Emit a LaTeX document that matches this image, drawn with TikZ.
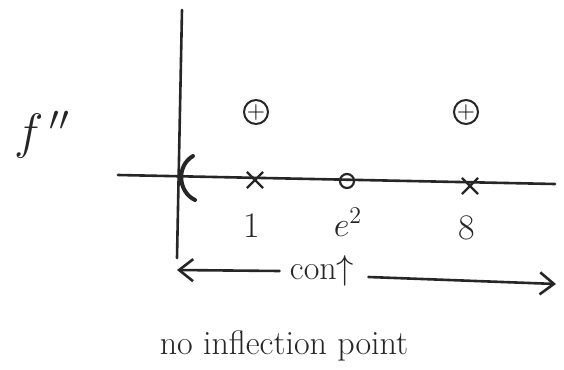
\documentclass[tikz,border=0pt]{standalone}
\usetikzlibrary{arrows.meta,shapes.misc}
\begin{document}
\begin{tikzpicture}[x=0.5pt,y=-0.5pt,
  ink/.style={line width=1.3pt,draw=black!85,line cap=round},
  lbl/.style={font=\fontsize{15}{17}\selectfont,text=black!85,inner sep=0pt},
  xmark/.style={cross out,draw=black!85,line width=1.1pt,minimum size=7pt,inner sep=0pt},
  sgn/.style={circle,draw=black!85,line width=1pt,inner sep=0pt,minimum size=12pt,font=\fontsize{12}{12}\selectfont\bfseries}]
\useasboundingbox (0,0) rectangle (564,370);
% axes
\coordinate (vtop) at (182,10);
\coordinate (vbot) at (177,258);
\coordinate (hl) at (118,175);
\coordinate (hr) at (555,184);
\draw[ink] (vtop) -- (vbot);
\draw[ink] (hl) -- (hr);
% label
\node[lbl,font=\fontsize{24}{26}\selectfont] (fpp) at (42,135) {$f^{\,\prime\prime}$};
% signs
\node[sgn] (s1) at (256,112) {$+$};
\node[sgn] (s2) at (466,112) {$+$};
% open paren at 0
\draw[ink,line width=2pt] (193,156) .. controls (176,166) and (178,192) .. (195,200);
% marks
\node[xmark] (m1) at (255,180) {};
\node[circle,draw=black!85,line width=1.1pt,minimum size=7pt,inner sep=0pt] (m2) at (347,181) {};
\node[xmark] (m3) at (470,186) {};
% tick labels
\node[lbl,font=\fontsize{18}{20}\selectfont] (t1) at (252,226) {1};
\node[lbl,font=\fontsize{18}{20}\selectfont] (t2) at (348,222) {$e^2$};
\node[lbl,font=\fontsize{18}{20}\selectfont] (t3) at (467,228) {8};
% concavity arrow
\node[lbl,font=\fontsize{17}{19}\selectfont] (cu) at (322,271) {con$\uparrow$};
\coordinate (aL) at (177,270);
\coordinate (aR) at (556,284);
\draw[ink,-{Straight Barb[length=7pt,width=11pt]}] (cu.west) ++(-10,0) -- (aL);
\draw[ink,-{Straight Barb[length=7pt,width=11pt]}] (cu.east) ++(14,6) -- (aR);
% conclusion
\node[lbl,font=\fontsize{17}{19}\selectfont] (np) at (284,346) {no inflection point};
\end{tikzpicture}
\end{document}
